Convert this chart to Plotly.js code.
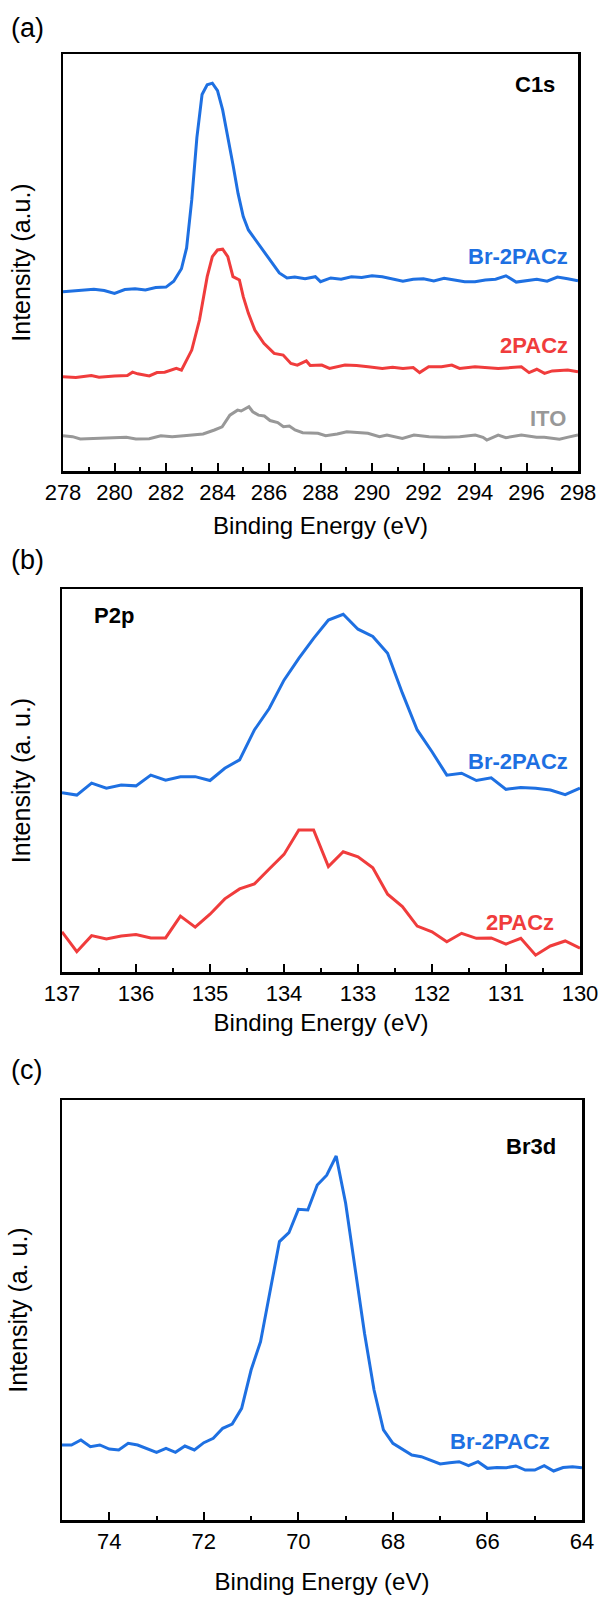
<!DOCTYPE html>
<html>
<head>
<meta charset="utf-8">
<script src="https://cdn.plot.ly/plotly-3.0.1.min.js"></script>
<style>html,body{margin:0;padding:0;background:#fff;}#chart{width:601px;height:1597px;}</style>
</head>
<body>
<div id="chart"></div>
<script>
// ---------- Panel (a): C1s ----------
const c1sBrX = [278,278.4,278.8,279.2,279.6,280.0,280.4,280.8,281.2,281.6,282.0,282.3,282.6,282.8,283.0,283.2,283.4,283.6,283.8,284.0,284.2,284.4,284.6,284.8,285.0,285.2,285.5,285.8,286.1,286.4,286.7,287.0,287.4,287.8,288.0,288.4,288.8,289.2,289.6,290.0,290.4,290.8,291.2,291.6,292.0,292.4,292.8,293.2,293.6,294.0,294.4,294.8,295.2,295.6,296.0,296.4,296.8,297.2,297.6,298.0];
const c1sBrY = [43.0,43.2,43.4,43.6,43.3,42.6,43.5,43.7,43.4,44.0,44.1,45.5,48.5,53.5,65.0,80.0,90.3,92.6,93.0,91.2,86.6,80.5,73.5,66.5,61.0,57.8,55.2,52.6,50.0,47.5,46.3,46.5,46.1,46.6,45.4,46.3,46.0,46.6,46.4,46.8,46.6,46.0,45.5,46.0,46.1,45.6,46.2,45.8,45.4,45.4,45.8,46.0,46.8,45.3,45.7,46.0,45.5,46.5,46.1,45.6];

const c1sPX = [278.0,278.5,279.1,279.4,280.0,280.5,280.7,280.9,281.35,281.65,281.95,282.4,282.6,283.0,283.3,283.6,283.8,284.0,284.2,284.4,284.6,284.85,285.0,285.2,285.45,285.8,286.2,286.55,286.85,287.1,287.45,287.6,288.05,288.35,288.95,289.4,289.85,290.4,290.8,291.2,291.6,291.85,292.2,292.7,293.1,293.4,294.0,294.5,294.9,295.4,295.8,296.1,296.4,296.7,297.0,297.6,298.0];
const c1sPY = [22.6,22.4,22.9,22.5,22.8,22.9,23.7,23.3,22.8,23.6,23.7,24.6,24.2,29.0,36.2,46.6,51.4,53.0,53.2,51.4,46.6,45.8,41.8,37.8,33.8,30.6,28.2,27.8,25.8,25.4,26.4,25.3,25.4,24.6,25.4,25.3,25.0,24.6,24.9,24.6,24.8,23.6,25.0,25.0,25.4,24.6,25.0,24.7,24.6,24.8,25.0,23.6,24.4,23.4,24.0,24.2,23.8];

const c1sItoX = [278.0,278.37,278.67,279.27,280.01,280.46,280.83,281.35,281.8,282.24,282.69,282.99,283.44,283.88,284.18,284.48,284.78,284.92,285.07,285.22,285.37,285.59,285.82,286.04,286.34,286.56,286.79,287.01,287.31,287.9,288.2,288.65,289.02,289.39,289.84,290.29,290.58,291.18,291.63,292.22,292.82,293.41,294.01,294.31,294.46,294.9,295.2,295.8,296.39,296.69,297.28,297.58,298.0];
const c1sItoY = [8.47,8.23,7.67,7.83,8.0,8.07,7.67,7.75,8.47,8.23,8.47,8.63,8.87,9.83,10.6,13.4,14.6,14.4,15.0,15.4,14.2,13.4,13.2,12.1,11.6,10.6,10.8,9.83,9.2,9.03,8.47,8.87,9.43,9.2,9.03,8.23,8.63,7.83,8.63,8.23,8.07,8.23,8.63,8.07,7.43,8.63,8.0,8.63,8.07,8.07,7.6,8.07,8.63];

// ---------- Panel (b): P2p ----------
const p2pX = [137.0,136.8,136.6,136.4,136.2,136.0,135.8,135.6,135.4,135.2,135.0,134.8,134.6,134.4,134.2,134.0,133.8,133.6,133.4,133.2,133.0,132.8,132.6,132.4,132.2,132.0,131.8,131.6,131.4,131.2,131.0,130.8,130.6,130.4,130.2,130.0];
const p2pBrY = [46.8,46.2,49.3,48.0,48.8,48.6,51.4,50.1,51.0,51.0,50.0,53.2,55.4,63.2,68.8,76.2,81.9,87.1,91.9,93.4,89.5,87.6,83.2,72.8,63.2,57.5,51.4,51.9,50.0,50.7,47.7,48.2,48.0,47.5,46.3,48.0];
const p2pPY = [10.5,5.3,9.5,8.6,9.4,9.8,8.9,8.9,14.6,11.7,15.1,19.1,21.7,23.0,26.9,30.7,37.1,37.1,27.5,31.4,30.1,27.2,20.3,17.1,12.0,10.5,7.9,10.1,8.8,8.9,7.3,8.8,4.4,6.8,8.1,6.2];

// ---------- Panel (c): Br3d ----------
const br3dX = [75.0,74.8,74.6,74.4,74.2,74.0,73.8,73.6,73.4,73.2,73.0,72.8,72.6,72.4,72.2,72.0,71.8,71.6,71.4,71.2,71.0,70.8,70.6,70.4,70.2,70.0,69.8,69.6,69.4,69.2,69.0,68.8,68.6,68.4,68.2,68.0,67.8,67.6,67.4,67.2,67.0,66.8,66.6,66.4,66.2,66.0,65.8,65.6,65.4,65.2,65.0,64.8,64.6,64.4,64.2,64.0];
const br3dY = [17.86,17.86,19.05,17.46,17.86,16.9,16.67,18.25,17.86,17.06,16.11,17.06,16.11,17.62,16.67,18.41,19.44,21.83,22.86,26.59,35.71,42.46,54.8,66.3,68.4,73.96,73.8,79.76,82.1,86.67,75.4,60.3,44.4,31.0,21.43,18.25,16.83,15.48,15.08,14.13,13.33,13.65,13.89,12.94,13.89,12.3,12.5,12.46,12.86,11.9,11.9,12.94,11.67,12.5,12.7,12.46];

// ---------- Text ----------
const panelLetters = ["(a)", "(b)", "(c)"];
const xTitle = "Binding Energy (eV)";
const yTitles = ["Intensity (a.u.)", "Intensity (a. u.)", "Intensity (a. u.)"];
const seriesNames = ["Br-2PACz", "2PACz", "ITO"];
const coreLevels = ["C1s", "P2p", "Br3d"];

// ---------- Styling / geometry ----------
const W = 601, H = 1597;
const BLUE = "rgb(30,112,226)", RED = "rgb(240,60,60)", GRAY = "rgb(152,152,152)";
const FONT = "Liberation Sans, Arial, sans-serif";
const px2x = p => p / W;
const px2y = p => 1 - p / H;

function xAxis(domPx, range, dtick, minorDtick, anchor, standoff) {
  return {
    domain: [px2x(domPx[0]), px2x(domPx[1])], range: range, anchor: anchor,
    showline: true, mirror: true, linecolor: "#000", linewidth: 2.5,
    ticks: "inside", ticklen: 8, tickwidth: 2, tickcolor: "#000",
    dtick: dtick, tick0: 0,
    minor: {ticks: "inside", ticklen: 4, tickwidth: 2, tickcolor: "#000", dtick: minorDtick, tick0: 0},
    showgrid: false, zeroline: false,
    tickfont: {family: FONT, size: 22, color: "#000"},
    title: {text: xTitle, font: {family: FONT, size: 24, color: "#000"}, standoff: standoff},
    automargin: false
  };
}
function yAxis(domPx, title, anchor, standoff) {
  return {
    domain: [px2y(domPx[1]), px2y(domPx[0])], range: [0, 100], anchor: anchor,
    showline: true, mirror: true, linecolor: "#000", linewidth: 2.5,
    ticks: "", showticklabels: false, showgrid: false, zeroline: false,
    title: {text: title, font: {family: FONT, size: 25, color: "#000"}, standoff: standoff},
    automargin: false
  };
}

const lw = 3;
const traces = [
  {x: c1sBrX, y: c1sBrY, xaxis: "x", yaxis: "y", mode: "lines", line: {color: BLUE, width: lw}, name: seriesNames[0]},
  {x: c1sPX, y: c1sPY, xaxis: "x", yaxis: "y", mode: "lines", line: {color: RED, width: lw}, name: seriesNames[1]},
  {x: c1sItoX, y: c1sItoY, xaxis: "x", yaxis: "y", mode: "lines", line: {color: GRAY, width: lw}, name: seriesNames[2]},
  {x: p2pX, y: p2pBrY, xaxis: "x2", yaxis: "y2", mode: "lines", line: {color: BLUE, width: lw}, name: seriesNames[0]},
  {x: p2pX, y: p2pPY, xaxis: "x2", yaxis: "y2", mode: "lines", line: {color: RED, width: lw}, name: seriesNames[1]},
  {x: br3dX, y: br3dY, xaxis: "x3", yaxis: "y3", mode: "lines", line: {color: BLUE, width: lw}, name: seriesNames[0]}
];

function lab(text, xref, yref, x, y, color, anchor, size) {
  return {text: "<b>" + text + "</b>", xref: xref, yref: yref, x: x, y: y, xanchor: anchor, yanchor: "middle",
          showarrow: false, font: {family: FONT, size: size || 22, color: color}};
}
function letter(text, ypx) {
  return {text: text, xref: "paper", yref: "paper", x: px2x(9), y: px2y(ypx), xanchor: "left", yanchor: "middle",
          showarrow: false, font: {family: FONT, size: 27, color: "#000"}};
}

const annotations = [
  letter(panelLetters[0], 28), letter(panelLetters[1], 560), letter(panelLetters[2], 1070),
  lab(coreLevels[0], "x", "y", 297.18, 92.6, "#000", "right"),
  lab(seriesNames[0], "x", "y", 297.7, 51.4, BLUE, "right"),
  lab(seriesNames[1], "x", "y", 297.69, 30.0, RED, "right"),
  lab(seriesNames[2], "x", "y", 297.63, 12.5, GRAY, "right"),
  lab(coreLevels[1], "x2", "y2", 136.59, 93.2, "#000", "left"),
  lab(seriesNames[0], "x2", "y2", 130.135, 54.9, BLUE, "right"),
  lab(seriesNames[1], "x2", "y2", 130.32, 13.0, RED, "right"),
  lab(coreLevels[2], "x3", "y3", 64.51, 88.9, "#000", "right"),
  lab(seriesNames[0], "x3", "y3", 64.63, 18.6, BLUE, "right")
];

const layout = {
  width: W, height: H, margin: {l: 0, r: 0, t: 0, b: 0},
  paper_bgcolor: "#fff", plot_bgcolor: "#fff", showlegend: false,
  xaxis: xAxis([63, 578], [278, 298], 2, 1, "y", 14),
  yaxis: yAxis([54, 471], yTitles[0], "x", 23),
  xaxis2: xAxis([62, 580], [137, 130], 1, 0.5, "y2", 10),
  yaxis2: yAxis([589, 972], yTitles[1], "x2", 22),
  xaxis3: xAxis([62, 582], [75, 64], 2, 1, "y3", 21),
  yaxis3: yAxis([1100, 1520], yTitles[2], "x3", 25),
  annotations: annotations
};

Plotly.newPlot("chart", traces, layout, {staticPlot: true, displayModeBar: false});
</script>
</body>
</html>
